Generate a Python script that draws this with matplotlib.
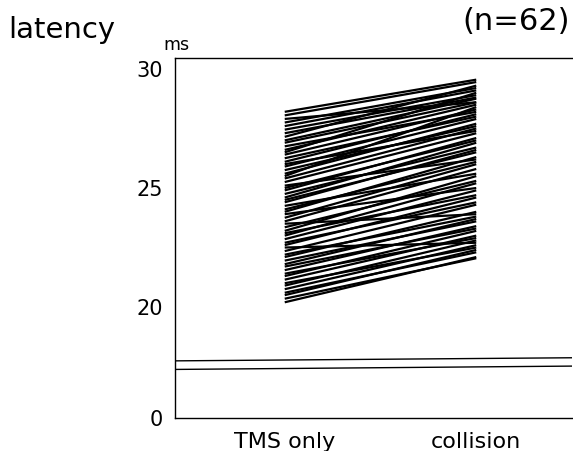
import matplotlib
matplotlib.use("Agg")
import matplotlib.pyplot as plt

categories = ["TMS only", "collision"]
n_label = "(n=62)"

tms_only = [20.2, 20.35, 20.5, 20.6, 20.75, 20.9, 21.0, 21.15, 21.3, 21.4,
            21.55, 21.7, 21.8, 21.95, 22.1, 22.2, 22.35, 22.5, 22.6, 22.7,
            22.85, 23.0, 23.1, 23.2, 23.35, 23.5, 23.6, 23.75, 23.9, 24.0,
            24.1, 24.25, 24.4, 24.5, 24.6, 24.75, 24.9, 25.0, 25.1, 25.25,
            25.4, 25.5, 25.6, 25.75, 25.9, 26.0, 26.1, 26.25, 26.4, 26.5,
            26.6, 26.75, 26.9, 27.0, 27.15, 27.3, 27.45, 27.6, 27.75, 27.9,
            28.05, 28.2]
collision = [22.1, 22.05, 22.4, 22.3, 22.6, 22.8, 22.5, 23.0, 23.2, 22.9,
             23.4, 23.3, 23.7, 23.6, 24.0, 23.8, 24.3, 22.7, 24.6, 24.4,
             24.9, 25.2, 24.7, 25.5, 25.3, 23.9, 25.8, 26.0, 25.0, 26.3,
             26.1, 25.6, 26.6, 26.5, 26.9, 26.7, 27.1, 27.0, 26.2, 27.3,
             27.5, 28.4, 27.7, 27.6, 27.9, 27.4, 28.1, 28.0, 28.3, 29.0,
             28.5, 28.2, 28.6, 28.75, 29.3, 28.8, 28.9, 29.1, 29.2, 28.6,
             29.45, 29.55]

# broken axis: bottom of the frame stands for 0
ytick_vals = [15.34, 20, 25, 30]
ytick_labels = ["0", "20", "25", "30"]
break_lower = [17.38, 17.52]
break_upper = [17.74, 17.87]

W, H = 573, 451
fig = plt.figure(figsize=(W / 100, H / 100), dpi=100)
ax = fig.add_axes([175 / W, 1 - 418 / H, (572 - 175) / W, (418 - 58) / H])

xpos = [0, 1]
for a, b in zip(tms_only, collision):
    ax.plot(xpos, [a, b], color="black", lw=1.6, solid_capstyle="butt")

xmin, xmax = -0.573, 1.5
ax.plot([xmin, xmax], break_upper, color="black", lw=1.0)
ax.plot([xmin, xmax], break_lower, color="black", lw=1.0)

ax.set_xlim(xmin, xmax)
ax.set_ylim(15.34, 30.46)
ax.set_yticks(ytick_vals, ytick_labels)
ax.set_xticks(xpos, categories)
ax.tick_params(length=0, labelsize=15, pad=9)
ax.tick_params(axis="x", labelsize=16, pad=10)
ax.spines["right"].set_visible(False)
for s in ["left", "top", "bottom"]:
    ax.spines[s].set_linewidth(1.0)

fig.text(8 / W, 1 - 38 / H, "latency", fontsize=21, va="baseline", ha="left")
fig.text(570 / W, 1 - 22 / H, n_label, fontsize=22, va="center", ha="right")
fig.text(176 / W, 1 - 45 / H, "ms", fontsize=12.5, va="center", ha="center")

fig.savefig("out.png", dpi=100)
